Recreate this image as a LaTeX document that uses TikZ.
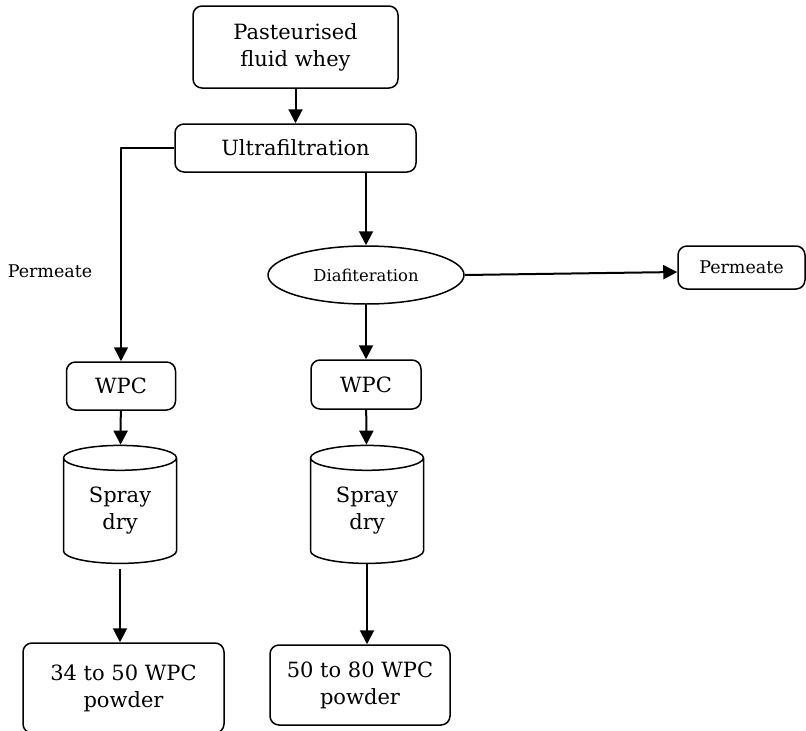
\documentclass[tikz,border=0pt]{standalone}
\usepackage{fontspec}
\setmainfont{DejaVu Serif}
\usetikzlibrary{shapes.geometric,arrows.meta}
\begin{document}
\begin{tikzpicture}[x=1pt,y=-1pt,line join=round,
	font=\fontsize{21}{27}\selectfont,
	>={Triangle[length=14pt,width=14pt]},
	box/.style={draw,line width=1.5pt,rounded corners=9pt,align=center,inner sep=0pt},
	drum/.style={draw,line width=1.5pt,cylinder,shape border rotate=90,aspect=0.4,align=center,inner sep=0pt,minimum width=113pt,minimum height=118pt},
	flow/.style={->,line width=2pt}]
	\useasboundingbox (0,0) rectangle (806,731);
	\node[box,minimum width=205pt,minimum height=82pt] (whey) at (295.5,47) {Pasteurised\\fluid whey};
	\node[box,minimum width=241pt,minimum height=48pt] (uf) at (295.5,148) {Ultrafiltration};
	\node[draw,ellipse,line width=1.5pt,inner sep=0pt,minimum width=196pt,minimum height=58pt,font=\fontsize{16.4}{20}\selectfont] (dia) at (366,275) {Diafiteration};
	\node[box,minimum width=127pt,minimum height=43pt,font=\fontsize{17.5}{21}\selectfont] (perm2) at (741.5,267.5) {Permeate};
	\node[font=\fontsize{17.5}{21}\selectfont] (perm1) at (50,271) {Permeate};
	% left branch
	\node[box,minimum width=109pt,minimum height=48pt] (wpc1) at (121,386) {WPC};
	\node[drum] (dry1) at (120,511) {Spray\\dry};
	\node[box,minimum width=201pt,minimum height=90pt] (out1) at (123.5,688) {34 to 50 WPC\\powder};
	% right branch
	\node[box,minimum width=110pt,minimum height=49pt] (wpc2) at (366,384.5) {WPC};
	\node[drum] (dry2) at (367,511) {Spray\\dry};
	\node[box,minimum width=180pt,minimum height=80pt] (out2) at (360,685) {50 to 80 WPC\\powder};
	\draw[flow] (whey) -- (uf);
	\draw[flow,line width=1.5pt] (uf.west) -| (wpc1);
	\draw[flow] (uf.south -| dia) -- (dia);
	\draw[flow] (dia.east) -- ([yshift=-4.5pt]perm2.west);
	\draw[flow] (dia) -- (wpc2);
	\draw[flow] (wpc1) -- (dry1);
	\draw[flow] (wpc2) -- (dry2);
	\draw[flow,shorten <=5pt] (dry1) -- (dry1.south |- out1.north);
	\draw[flow] (dry2) -- (dry2.south |- out2.north);
\end{tikzpicture}
\end{document}
